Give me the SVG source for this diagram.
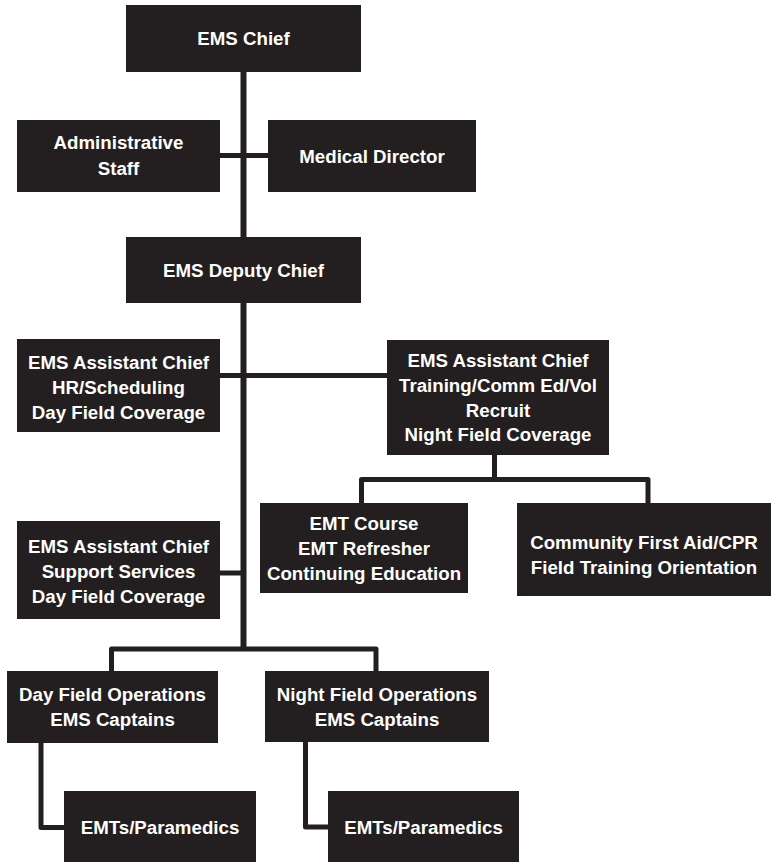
<svg xmlns="http://www.w3.org/2000/svg" width="772" height="862" viewBox="0 0 772 862">
<style>
.box{fill:#231f20}
.t{fill:#ffffff;font-family:"Liberation Sans",Arial,sans-serif;font-weight:bold;font-size:18.7px;text-anchor:middle}
.c{fill:none;stroke:#231f20;stroke-width:5;stroke-linejoin:round;stroke-linecap:butt}
.m{stroke-width:6}
</style>
<rect width="772" height="862" fill="#ffffff"/>
<g id="connectors">
<path class="c m" d="M243.5,72 V237"/>
<path class="c m" d="M243.5,303 V651"/>
<path class="c" d="M220,155.5 H268"/>
<path class="c" d="M220,375.5 H387"/>
<path class="c" d="M220,573 H244"/>
<path class="c" d="M494.5,455 V479.5"/>
<path class="c" d="M361.5,503 V479.5 H648 V503"/>
<path class="c" d="M111.5,671 V649 H376 V671"/>
<path class="c" d="M41,743 V827.5 H64"/>
<path class="c" d="M305.5,742 V827 H328"/>
</g>
<g id="ems-chief">
<rect class="box" x="126" y="5" width="235" height="67"/>
<text class="t" x="243.5" y="45">EMS Chief</text>
</g>
<g id="administrative-staff">
<rect class="box" x="17" y="120" width="203" height="72"/>
<text class="t" x="118.5" y="149">Administrative</text>
<text class="t" x="118.5" y="175">Staff</text>
</g>
<g id="medical-director">
<rect class="box" x="268" y="120" width="208" height="72"/>
<text class="t" x="372" y="163">Medical Director</text>
</g>
<g id="ems-deputy-chief">
<rect class="box" x="126" y="237" width="235" height="66"/>
<text class="t" x="243.5" y="277">EMS Deputy Chief</text>
</g>
<g id="asst-chief-hr">
<rect class="box" x="17" y="339" width="203" height="93"/>
<text class="t" x="118.5" y="369">EMS Assistant Chief</text>
<text class="t" x="118.5" y="394">HR/Scheduling</text>
<text class="t" x="118.5" y="419">Day Field Coverage</text>
</g>
<g id="asst-chief-training">
<rect class="box" x="387" y="340" width="222" height="115"/>
<text class="t" x="498" y="367">EMS Assistant Chief</text>
<text class="t" x="498" y="392">Training/Comm Ed/Vol</text>
<text class="t" x="498" y="417">Recruit</text>
<text class="t" x="498" y="441">Night Field Coverage</text>
</g>
<g id="emt-course">
<rect class="box" x="260" y="503" width="208" height="90"/>
<text class="t" x="364" y="530">EMT Course</text>
<text class="t" x="364" y="555">EMT Refresher</text>
<text class="t" x="364" y="580">Continuing Education</text>
</g>
<g id="community-first-aid">
<rect class="box" x="517" y="503" width="254" height="93"/>
<text class="t" x="644" y="549">Community First Aid/CPR</text>
<text class="t" x="644" y="574">Field Training Orientation</text>
</g>
<g id="asst-chief-support">
<rect class="box" x="17" y="521" width="203" height="98"/>
<text class="t" x="118.5" y="553">EMS Assistant Chief</text>
<text class="t" x="118.5" y="578">Support Services</text>
<text class="t" x="118.5" y="603">Day Field Coverage</text>
</g>
<g id="day-field-ops">
<rect class="box" x="7" y="671" width="211" height="72"/>
<text class="t" x="112.5" y="701">Day Field Operations</text>
<text class="t" x="112.5" y="726">EMS Captains</text>
</g>
<g id="night-field-ops">
<rect class="box" x="265" y="671" width="224" height="71"/>
<text class="t" x="377" y="701">Night Field Operations</text>
<text class="t" x="377" y="726">EMS Captains</text>
</g>
<g id="emts-day">
<rect class="box" x="64" y="791" width="192" height="71"/>
<text class="t" x="160" y="834">EMTs/Paramedics</text>
</g>
<g id="emts-night">
<rect class="box" x="328" y="791" width="191" height="71"/>
<text class="t" x="423.5" y="834">EMTs/Paramedics</text>
</g>
</svg>
